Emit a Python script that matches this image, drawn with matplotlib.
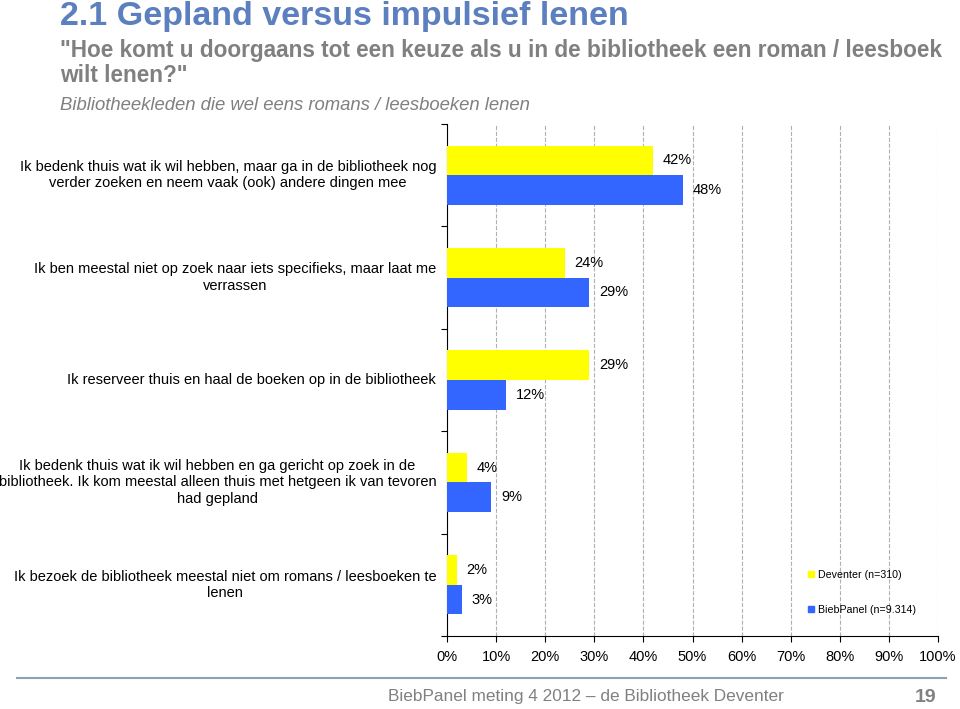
import matplotlib.pyplot as plt
from matplotlib.lines import Line2D
import matplotlib.transforms as mtransforms

plt.rcParams['font.family'] = ['Liberation Sans', 'DejaVu Sans']

# Data
categories = [
    'Ik bedenk thuis wat ik wil hebben, maar ga in de bibliotheek nog\nverder zoeken en neem vaak (ook) andere dingen mee',
    'Ik ben meestal niet op zoek naar iets specifieks, maar laat me\nverrassen',
    'Ik reserveer thuis en haal de boeken op in de bibliotheek',
    'Ik bedenk thuis wat ik wil hebben en ga gericht op zoek in de\nbibliotheek. Ik kom meestal alleen thuis met hetgeen ik van tevoren\nhad gepland',
    'Ik bezoek de bibliotheek meestal niet om romans / leesboeken te\nlenen',
]
deventer = [42, 24, 29, 4, 2]
biebpanel = [48, 29, 12, 9, 3]
series_names = ['Deventer (n=310)', 'BiebPanel (n=9.314)']
xticks = [0, 10, 20, 30, 40, 50, 60, 70, 80, 90, 100]

yellow = '#FFFF00'
blue = '#3366FF'

fig = plt.figure(figsize=(9.6, 7.09), dpi=100)
ax = fig.add_axes([447 / 960, 73 / 709, 491 / 960, 512 / 709])

h = 0.29
pos = list(range(len(categories)))
ax.barh([p - h / 2 for p in pos], deventer, height=h, color=yellow, zorder=3)
ax.barh([p + h / 2 for p in pos], biebpanel, height=h, color=blue, zorder=3)

# value labels
for p, v in zip(pos, deventer):
    ax.annotate(f'{v}%', (v, p - h / 2), xytext=(7, 0), textcoords='offset points',
                va='center', ha='left', fontsize=10.5)
for p, v in zip(pos, biebpanel):
    ax.annotate(f'{v}%', (v, p + h / 2), xytext=(7, 0), textcoords='offset points',
                va='center', ha='left', fontsize=10.5)

# category labels
trans = mtransforms.blended_transform_factory(ax.transAxes, ax.transData)
for p, lab in zip(pos, categories):
    ax.text(-0.022, p, lab, transform=trans, ha='right', va='center',
            multialignment='center', fontsize=10.5)

ax.set_xlim(0, 100)
ax.set_ylim(len(categories) - 0.5, -0.5)
ax.set_xticks(xticks)
ax.set_xticklabels([f'{t}%' for t in xticks], fontsize=10.5)
ax.set_yticks([p - 0.5 for p in pos] + [len(categories) - 0.5])
ax.set_yticklabels([])
ax.tick_params(axis='x', length=4, pad=6)
ax.tick_params(axis='y', length=4)
ax.grid(axis='x', linestyle='--', color='#b0b0b0', linewidth=0.8, zorder=0)
ax.spines['top'].set_visible(False)
ax.spines['right'].set_visible(False)

handles = [Line2D([], [], marker='s', linestyle='', color=yellow, markersize=4),
           Line2D([], [], marker='s', linestyle='', color=blue, markersize=4)]
ax.legend(handles, series_names, loc='center left', bbox_to_anchor=(0.715, 0.085),
          frameon=False, fontsize=7.7, handlelength=0.6, handletextpad=0.4,
          labelspacing=2.3)

# titles
fig.text(60 / 960, 1 - 16 / 709, '2.1 Gepland versus impulsief lenen',
         fontsize=24.5, fontweight='bold', color='#5B7FBF', va='center')
fig.text(60 / 960, 1 - 50 / 709, '"Hoe komt u doorgaans tot een keuze als u in de bibliotheek een roman / leesboek',
         fontsize=16.3, fontweight='bold', color='#808080', va='center')
fig.text(60 / 960, 1 - 75 / 709, 'wilt lenen?"',
         fontsize=16.3, fontweight='bold', color='#808080', va='center')
fig.text(60 / 960, 1 - 105 / 709, 'Bibliotheekleden die wel eens romans / leesboeken lenen',
         fontsize=13.3, fontstyle='italic', color='#808080', va='center')

# footer
fig.add_artist(Line2D([17 / 960, 946 / 960], [1 - 678 / 709, 1 - 678 / 709],
                      color='#8EA0B8', linewidth=1.5))
fig.text(388 / 960, 1 - 697 / 709, 'BiebPanel meting 4 2012 \u2013 de Bibliotheek Deventer',
         fontsize=12.4, color='#808080', va='center')
fig.text(936 / 960, 1 - 697 / 709, '19', fontsize=14, fontweight='bold',
         color='#808080', va='center', ha='right')

plt.savefig('out.png', dpi=100)
